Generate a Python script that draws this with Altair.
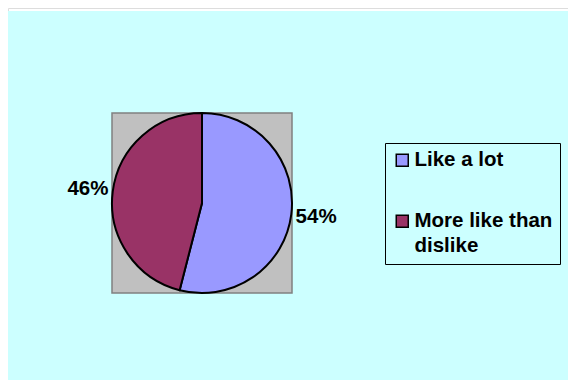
import altair as alt
import pandas as pd

# ---- data ----
categories = ["Like a lot", "More like than dislike"]
values = [54, 46]
colors = ["#9999FF", "#993366"]
legend_lines = [["Like a lot"], ["More like than", "dislike"]]

FONT = "Liberation Sans"
FS = 20.5
W, H = 560, 372
CX, CY, R = 194, 195, 90

df = pd.DataFrame({"category": categories, "value": values, "order": [0, 1]})
df["pct"] = df["value"].astype(str) + "%"

one = pd.DataFrame({"k": [0]})

bg = alt.Chart(one).mark_rect(fill="#CCFFFF").encode(
    x=alt.value(0), x2=alt.value(W), y=alt.value(3), y2=alt.value(H)
)
plot_area = alt.Chart(one).mark_rect(fill="#C0C0C0", stroke="#808080", strokeWidth=1.5).encode(
    x=alt.value(CX - 90), x2=alt.value(CX + 90), y=alt.value(CY - 90), y2=alt.value(CY + 90)
)

expr_parts = []
for cat, lines in zip(categories, legend_lines):
    if len(lines) > 1:
        arr = "[" + ", ".join("'" + l + "'" for l in lines) + "]"
        expr_parts.append(f"datum.label == '{cat}' ? {arr} : ")
label_expr = "".join(expr_parts) + "datum.label"

base = alt.Chart(df).encode(
    theta=alt.Theta("value:Q", stack=True),
    order=alt.Order("order:Q"),
)

pie = base.mark_arc(stroke="black", strokeWidth=2, radius=R).encode(
    x=alt.value(CX), y=alt.value(CY),
    color=alt.Color(
        "category:N",
        scale=alt.Scale(domain=categories, range=colors),
        legend=alt.Legend(
            orient="none", legendX=377, legendY=135, title=None,
            symbolType="square", symbolSize=144, symbolStrokeColor="black",
            symbolStrokeWidth=1.5, symbolOpacity=1,
            labelFont=FONT, labelFontSize=FS, labelFontWeight="bold", labelColor="black",
            labelLimit=0, labelExpr=label_expr, labelOffset=2,
            strokeColor="black", fillColor="#CCFFFF",
            padding=7, rowPadding=40,
        ),
    ),
)

labels = base.mark_text(
    font=FONT, fontSize=FS, fontWeight="bold", color="black", radius=115,
    align="center", baseline="middle",
).encode(x=alt.value(CX), y=alt.value(CY), text="pct:N")

chart = (bg + plot_area + pie + labels).properties(
    width=W, height=H, background="white", padding=0,
    autosize=alt.AutoSizeParams(type="none"),
).configure_view(stroke=None).configure(
    style={"guide-label": {"lineHeight": 25}}
)

chart.save("out.html", embed_options={"renderer": "svg", "actions": False})
